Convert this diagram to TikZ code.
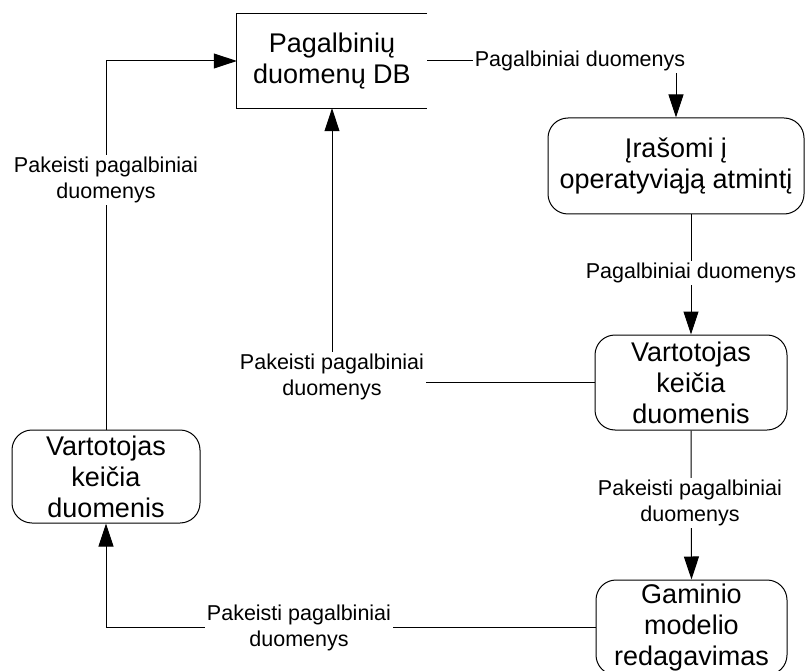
\documentclass[tikz,border=0pt]{standalone}
\usepackage{fontspec}
\setmainfont{Liberation Sans}
\usetikzlibrary{arrows.meta}

\tikzset{
  line/.style={draw=black, line width=1pt},
  flow/.style={line, -{Triangle[length=23pt,width=15pt]}},
  procbox/.style={draw=black, line width=1pt, rounded corners=20pt,
    align=center, font=\fontsize{27}{31}\selectfont, inner sep=0pt},
  store/.style={align=center, font=\fontsize{27}{31}\selectfont,
    minimum width=190pt, minimum height=94pt, inner sep=0pt},
  lbl/.style={fill=white, align=center, inner sep=2pt,
    font=\fontsize{21.5}{25.5}\selectfont}
}

\begin{document}
\begin{tikzpicture}[x=1pt, y=-1pt]
\useasboundingbox (0,0) rectangle (806,671);
\clip (0,0) rectangle (806,671);

% data store and processes
\node[store] (db) at (332,61) {Pagalbinių\\duomenų DB};
\draw[line] (db.north east) -- (db.north west) -- (db.south west) -- (db.south east);

\node[procbox, minimum width=256pt, minimum height=96pt] (mem) at (676,166)
  {Įrašomi į\\operatyviąją atmintį};
\node[procbox, minimum width=192pt, minimum height=95pt] (edit) at (691,382.5)
  {Vartotojas\\keičia\\duomenis};
\node[procbox, minimum width=191pt, minimum height=95pt] (model) at (691.5,627.5)
  {Gaminio\\modelio\\redagavimas};
\node[procbox, minimum width=188pt, minimum height=93pt] (user) at (106,476.5)
  {Vartotojas\\keičia\\duomenis};

% data flows
\draw[flow] (db.east) -| (mem.north);
\draw[flow] (edit.north |- mem.south) -- (edit.north);
\draw[flow] (edit.south) -- (model.north);
\draw[flow] (edit.west) -| (db.south);
\draw[flow] (model.west) -| (user.south);
\draw[flow] (user.north) |- (db.west);

% flow labels
\node[lbl] (f1) at (580,61) {Pagalbiniai duomenys};
\node[lbl] (f2) at (691,273) {Pagalbiniai duomenys};
\node[lbl] (f3) at (690,503) {Pakeisti pagalbiniai\\duomenys};
\node[lbl] (f4) at (332,377) {Pakeisti pagalbiniai\\duomenys};
\node[lbl] (f5) at (299,628) {Pakeisti pagalbiniai\\duomenys};
\node[lbl] (f6) at (106,180) {Pakeisti pagalbiniai\\duomenys};
\end{tikzpicture}
\end{document}
